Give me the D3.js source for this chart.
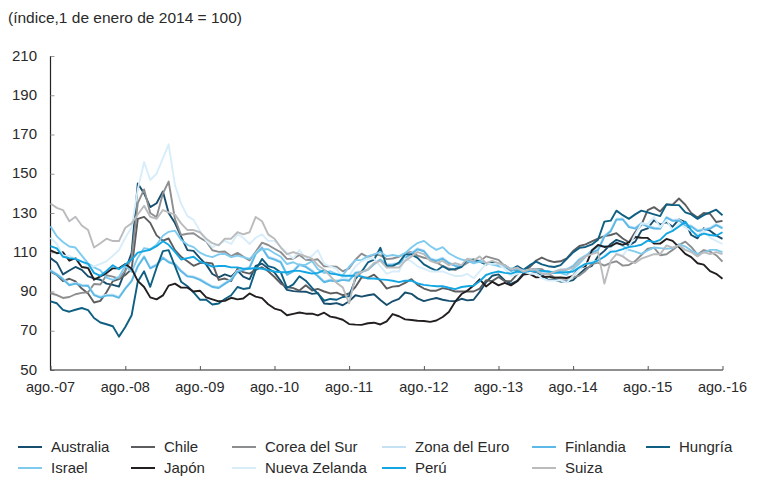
<!DOCTYPE html>
<html>
<head>
<meta charset="utf-8">
<script src="https://cdn.jsdelivr.net/npm/d3@7"></script>
<style>
  body { margin: 0; background: #fff; }
  svg { display: block; }
  text { font-family: "Liberation Sans", Arial, Helvetica, sans-serif; fill: #2a2a2a; }
</style>
</head>
<body>
<svg id="chart" width="758" height="477"></svg>
<script>
// monthly readings, ago.-2007 .. ago.-2016 (index, 1 Jan 2014 = 100)
var startMonth = new Date(2007, 7, 1);

var australia = [
  107.0, 104.7, 98.7, 100.7, 102.5,
  101.0, 97.7, 96.7, 96.0, 94.0, 93.4, 92.5, 100.7, 109.7, 145.0, 140.0, 133.0,
  135.0, 141.0, 130.0, 124.9, 118.0, 111.1, 110.7, 107.0, 103.7, 98.9, 97.2, 98.7,
  97.6, 100.7, 97.6, 96.2, 103.0, 104.2, 101.7, 99.7, 95.3, 90.8, 90.2, 90.0,
  89.9, 88.8, 89.2, 83.9, 83.6, 84.1, 83.0, 85.0, 88.1, 87.4, 88.1, 88.6,
  85.7, 83.1, 85.0, 86.2, 89.5, 88.8, 86.5, 85.1, 86.0, 86.7, 85.8, 85.2,
  85.0, 86.3, 85.5, 85.8, 89.8, 94.7, 98.0, 98.7, 95.6, 93.9, 95.4, 99.3,
  100.6, 99.9, 98.5, 95.9, 96.1, 95.1, 95.1, 95.8, 98.9, 101.7, 103.1, 108.0,
  110.7, 114.2, 116.3, 115.2, 113.5, 115.4, 121.0, 122.2, 126.3, 124.1, 125.3, 123.0,
  126.7, 125.3, 118.8, 117.1, 122.2, 121.0, 118.6, 116.8
];
var chile = [
  100.1, 98.4, 95.3, 96.5, 95.1,
  91.5, 89.0, 84.4, 85.2, 89.6, 95.3, 96.3, 98.4, 101.4, 127.0, 128.0, 125.0,
  118.6, 115.9, 117.0, 111.1, 107.7, 105.4, 103.1, 104.5, 104.7, 104.3, 95.9, 96.6,
  95.3, 101.6, 99.9, 99.1, 101.0, 102.4, 100.3, 97.4, 94.0, 92.3, 91.7, 90.5,
  93.2, 90.5, 91.3, 90.0, 89.0, 89.4, 88.1, 89.0, 92.3, 97.2, 97.0, 98.6,
  95.5, 91.5, 92.5, 92.8, 94.4, 96.3, 93.4, 91.5, 90.4, 90.4, 91.7, 91.1,
  90.0, 90.0, 90.0, 90.0, 91.5, 95.7, 95.3, 97.4, 95.3, 95.3, 98.9, 100.8,
  102.4, 105.8, 107.3, 105.8, 105.0, 105.4, 106.9, 110.6, 113.2, 114.0, 115.5, 116.9,
  118.2, 118.8, 119.7, 117.0, 115.1, 120.3, 123.9, 131.5, 133.0, 130.8, 134.4, 134.2,
  137.4, 134.2, 130.0, 127.7, 130.0, 129.6, 125.4, 126.0
];
var corea = [
  89.1, 88.2, 86.7, 87.2, 88.6,
  89.3, 89.6, 93.8, 93.6, 98.3, 97.6, 96.6, 100.5, 107.1, 135.0, 142.0, 130.0,
  127.8, 140.0, 146.0, 126.9, 118.8, 119.4, 119.7, 117.4, 115.5, 111.0, 110.2, 110.4,
  108.0, 109.7, 107.8, 105.8, 110.2, 114.9, 113.7, 111.8, 110.0, 106.6, 106.7, 108.6,
  106.2, 106.0, 106.4, 102.8, 102.8, 102.6, 100.3, 101.8, 106.2, 109.3, 107.5, 108.8,
  108.4, 106.5, 106.8, 107.7, 109.5, 110.2, 108.3, 107.2, 106.5, 104.8, 103.0, 101.7,
  100.9, 102.8, 104.5, 106.4, 105.3, 107.9, 107.0, 106.1, 102.9, 101.2, 100.7, 100.0,
  101.3, 101.5, 101.4, 99.1, 97.2, 96.6, 96.5, 97.2, 98.1, 100.6, 104.0, 104.7,
  103.2, 104.6, 105.4, 103.2, 103.5, 105.5, 108.6, 111.8, 112.3, 108.5, 109.0, 111.2,
  113.7, 115.4, 112.7, 108.8, 111.1, 110.4, 108.5, 105.2
];
var zonaEuro = [
  101.0, 99.0, 96.7, 93.7, 94.4,
  93.5, 93.3, 88.7, 87.4, 88.4, 88.4, 87.3, 91.9, 95.8, 103.2, 108.1, 102.3,
  103.9, 107.6, 105.4, 104.3, 100.8, 98.2, 97.7, 96.4, 94.5, 92.8, 92.3, 94.4,
  96.4, 100.6, 101.4, 102.6, 109.6, 112.7, 107.8, 106.7, 105.3, 99.0, 100.7, 104.1,
  103.0, 100.8, 98.3, 95.2, 96.1, 95.6, 96.4, 96.0, 99.9, 100.4, 101.5, 104.4,
  106.6, 103.9, 104.2, 104.6, 107.6, 109.7, 112.0, 111.0, 107.0, 106.1, 107.2, 104.9,
  103.5, 103.0, 106.2, 105.6, 106.0, 104.2, 105.2, 103.4, 103.1, 100.9, 102.0, 100.4,
  101.1, 100.7, 99.5, 99.6, 100.2, 101.3, 101.6, 103.3, 106.7, 108.6, 110.3, 111.6,
  118.4, 121.2, 127.1, 127.2, 123.3, 122.5, 125.1, 123.5, 122.6, 122.4, 128.1, 126.5,
  126.7, 124.0, 123.6, 121.3, 121.8, 122.5, 124.3, 122.7
];
var finlandia = [
  100.5, 98.6, 96.2, 93.2, 94.0,
  93.0, 92.8, 88.2, 86.9, 87.9, 87.9, 86.8, 91.4, 95.3, 102.7, 107.6, 101.8,
  103.4, 107.1, 104.9, 103.8, 100.3, 97.7, 97.2, 95.9, 94.0, 92.3, 91.8, 93.9,
  95.9, 100.1, 100.9, 102.1, 109.1, 112.2, 107.3, 106.2, 104.8, 98.5, 100.2, 103.6,
  102.5, 100.3, 97.8, 94.7, 95.6, 95.1, 95.9, 95.5, 99.4, 99.9, 101.0, 103.9,
  106.1, 103.4, 103.7, 104.1, 107.1, 109.2, 111.5, 110.5, 106.5, 105.6, 106.7, 104.4,
  103.0, 102.5, 105.7, 105.1, 105.5, 103.7, 104.7, 102.9, 102.6, 100.4, 101.5, 99.9,
  100.6, 100.2, 99.0, 99.1, 99.7, 100.8, 101.1, 102.8, 106.2, 108.1, 109.8, 111.1,
  117.9, 120.7, 126.6, 126.7, 122.8, 122.0, 124.6, 123.0, 122.1, 121.9, 127.6, 126.0,
  126.2, 123.5, 123.1, 120.8, 121.3, 122.0, 123.8, 122.2
];
var hungria = [
  85.0, 84.0, 80.6, 79.7, 80.7,
  81.6, 80.5, 76.5, 74.2, 73.3, 72.3, 67.0, 71.9, 77.9, 95.0, 100.3, 92.4,
  102.1, 110.6, 111.1, 102.9, 95.0, 92.7, 89.5, 85.8, 85.8, 83.4, 83.9, 86.2,
  88.1, 92.3, 91.3, 91.8, 101.1, 106.6, 102.9, 102.0, 99.7, 91.8, 93.6, 97.8,
  95.5, 91.8, 89.0, 85.3, 86.2, 85.8, 87.2, 87.6, 96.4, 100.1, 104.8, 106.2,
  112.3, 102.9, 102.9, 104.8, 108.9, 108.9, 107.1, 103.8, 102.0, 100.6, 102.9, 101.1,
  101.5, 102.5, 106.2, 106.2, 105.2, 103.8, 104.8, 103.8, 103.4, 101.1, 102.9, 101.1,
  103.4, 105.2, 103.8, 102.9, 102.5, 103.4, 106.6, 109.9, 112.2, 112.7, 114.0, 116.4,
  125.6, 126.1, 131.2, 128.9, 127.0, 129.3, 131.2, 130.3, 129.3, 128.4, 134.4, 134.0,
  134.0, 130.3, 129.3, 127.0, 128.9, 130.3, 131.7, 128.9
];
var israel = [
  123.3, 118.1, 115.2, 112.9, 112.4,
  108.3, 104.3, 102.3, 100.8, 97.1, 95.9, 97.4, 103.1, 100.0, 107.2, 112.1, 111.5,
  113.8, 118.4, 120.4, 121.0, 116.4, 113.8, 112.6, 109.8, 108.3, 107.5, 108.9, 109.2,
  107.5, 108.3, 107.5, 106.6, 109.5, 111.5, 111.5, 109.5, 107.7, 104.0, 104.9, 103.4,
  103.7, 105.4, 101.4, 99.4, 100.3, 98.8, 98.2, 102.6, 106.0, 106.0, 108.0, 108.9,
  110.1, 108.0, 108.6, 108.0, 109.5, 112.4, 114.7, 115.8, 113.2, 111.2, 112.6, 109.5,
  107.7, 106.3, 105.7, 104.3, 105.2, 104.6, 103.7, 103.1, 102.9, 101.7, 101.7, 100.8,
  100.5, 101.4, 100.3, 100.3, 99.7, 99.4, 98.5, 101.4, 104.3, 107.7, 111.2, 112.9,
  113.2, 112.6, 115.2, 113.2, 111.2, 110.3, 109.2, 110.9, 112.4, 112.1, 111.8, 112.1,
  114.1, 112.9, 110.9, 109.2, 109.8, 111.2, 111.2, 110.1
];
var japon = [
  111.0, 109.5, 110.0, 105.7, 107.0,
  102.5, 102.0, 96.0, 97.7, 99.4, 101.8, 101.8, 104.0, 101.6, 95.4, 92.3, 87.0,
  86.0, 88.0, 93.0, 94.0, 92.0, 92.0, 90.0, 90.4, 87.0, 86.0, 85.0, 85.2,
  86.8, 86.0, 86.4, 89.0, 87.4, 86.6, 83.5, 81.3, 80.4, 77.9, 78.6, 79.3,
  78.7, 78.7, 77.8, 79.2, 77.2, 76.6, 75.6, 73.4, 73.1, 73.0, 73.8, 74.1,
  73.2, 74.8, 78.5, 77.4, 75.8, 75.5, 75.1, 75.0, 74.5, 75.2, 77.0, 79.6,
  84.8, 88.7, 90.4, 93.0, 96.2, 92.6, 95.0, 93.1, 94.4, 93.1, 95.2, 98.6,
  99.0, 97.2, 97.4, 97.6, 97.0, 97.2, 96.9, 98.0, 102.0, 102.9, 110.9, 113.7,
  112.7, 113.1, 114.7, 113.8, 115.0, 117.8, 117.4, 117.3, 114.4, 114.4, 116.8, 115.8,
  112.6, 109.2, 107.5, 104.4, 103.7, 100.4, 99.0, 96.5
];
var nuevaZelanda = [
  117.4, 114.2, 108.2, 108.2, 106.8,
  105.4, 102.8, 102.8, 104.1, 105.4, 108.2, 111.1, 117.4, 122.7, 142.0, 156.0, 146.8,
  150.0, 158.0, 165.0, 144.2, 134.8, 128.4, 126.5, 120.9, 115.8, 112.6, 114.2, 115.8,
  114.2, 119.1, 117.4, 114.2, 117.4, 119.1, 115.8, 115.8, 112.6, 109.6, 106.8, 111.1,
  106.8, 108.2, 111.1, 104.1, 102.8, 101.5, 96.7, 97.9, 102.8, 105.4, 106.8, 106.8,
  102.8, 99.0, 100.2, 100.2, 106.8, 105.4, 102.8, 101.5, 100.2, 100.2, 100.2, 99.0,
  97.9, 97.9, 99.0, 96.7, 100.2, 104.1, 104.1, 104.1, 101.5, 97.9, 99.0, 100.2,
  99.0, 99.0, 96.7, 95.6, 95.6, 95.6, 94.5, 97.9, 101.5, 104.1, 105.4, 105.4,
  108.2, 111.1, 109.6, 108.2, 112.6, 119.1, 124.5, 124.5, 128.0, 122.7, 126.5, 120.9,
  124.5, 122.7, 120.9, 119.1, 120.9, 117.4, 115.8, 114.2
];
var peru = [
  113.1, 112.0, 107.7, 107.0, 106.6,
  105.2, 104.1, 99.5, 98.0, 100.5, 103.4, 101.3, 103.8, 106.3, 109.8, 110.6, 111.3,
  113.1, 115.6, 113.8, 110.2, 106.3, 107.0, 107.7, 105.2, 104.1, 102.7, 103.0, 103.0,
  102.3, 102.3, 101.6, 101.6, 102.0, 101.6, 100.9, 100.2, 99.8, 99.8, 100.5, 100.5,
  99.8, 99.1, 99.5, 100.9, 99.1, 98.7, 98.0, 98.0, 98.0, 97.7, 96.6, 96.6,
  96.2, 95.9, 95.5, 94.8, 95.5, 95.5, 94.1, 93.4, 93.0, 92.7, 92.7, 91.9,
  91.2, 92.3, 92.7, 93.0, 95.2, 98.4, 99.5, 100.2, 99.5, 99.1, 100.2, 99.8,
  100.5, 100.5, 100.5, 100.2, 99.5, 99.8, 99.8, 100.2, 102.3, 104.1, 104.5, 105.9,
  107.7, 110.2, 110.6, 111.6, 112.7, 113.1, 113.8, 115.9, 115.2, 116.3, 119.5, 120.9,
  123.1, 125.6, 121.3, 118.1, 119.5, 118.8, 118.4, 120.2
];
var suiza = [
  134.8, 132.6, 131.5, 125.8, 128.1,
  123.6, 121.3, 112.4, 114.6, 116.9, 115.7, 115.7, 122.5, 124.7, 129.2, 133.7, 128.1,
  127.0, 131.5, 130.3, 129.2, 124.7, 121.3, 121.3, 120.2, 116.9, 114.6, 113.5, 116.9,
  116.9, 120.2, 119.1, 120.2, 128.0, 125.8, 119.1, 116.9, 112.4, 109.0, 110.1, 109.0,
  107.9, 106.7, 103.4, 101.1, 97.8, 94.4, 92.1, 84.0, 97.8, 100.0, 101.1, 104.5,
  105.6, 102.2, 102.2, 102.2, 105.6, 107.9, 110.1, 109.0, 105.6, 104.5, 105.6, 103.4,
  104.5, 103.4, 106.7, 105.6, 107.9, 104.5, 105.6, 104.5, 103.4, 101.1, 102.2, 100.0,
  101.1, 101.1, 98.9, 98.9, 100.0, 101.1, 101.1, 102.2, 105.6, 107.9, 109.0, 110.1,
  94.0, 105.6, 109.0, 107.9, 105.6, 104.5, 106.7, 107.9, 109.0, 109.0, 113.5, 112.4,
  113.5, 111.2, 110.1, 107.9, 110.1, 109.0, 110.1, 109.0
];

var series = [
  {name: "Australia", color: "#174e6d", values: australia},
  {name: "Chile", color: "#5c5d5f", values: chile},
  {name: "Corea del Sur", color: "#8d8e90", values: corea},
  {name: "Zona del Euro", color: "#c4e2f3", values: zonaEuro},
  {name: "Finlandia", color: "#5cb9e7", values: finlandia},
  {name: "Hungría", color: "#0e5f82", values: hungria},
  {name: "Israel", color: "#7fcbef", values: israel},
  {name: "Japón", color: "#231f20", values: japon},
  {name: "Nueva Zelanda", color: "#d7eefa", values: nuevaZelanda},
  {name: "Perú", color: "#12a6e3", values: peru},
  {name: "Suiza", color: "#babbbd", values: suiza}
];

var yTicks = [50, 70, 90, 110, 130, 150, 170, 190, 210];
var xTickYears = [2007, 2008, 2009, 2010, 2011, 2012, 2013, 2014, 2015, 2016];

var svg = d3.select("#chart");

var x = d3.scaleTime()
  .domain([new Date(2007, 7, 1), new Date(2016, 7, 1)])
  .range([50.5, 722.5]);
var y = d3.scaleLinear()
  .domain([50, 210])
  .range([370, 56]);

function dateAt(i) {
  return d3.timeMonth.offset(startMonth, i);
}

svg.append("text")
  .attr("x", 8)
  .attr("y", 23)
  .style("font-size", "15.5px")
  .text("(índice,1 de enero de 2014 = 100)");

// y axis
var yAxis = svg.append("g")
  .attr("transform", "translate(50.5,0)")
  .call(d3.axisRight(y).tickValues(yTicks).tickSize(4).tickFormat(""));
yAxis.select(".domain").attr("stroke", "#222").attr("stroke-width", 1.2).attr("d", "M0,56V370");
yAxis.selectAll(".tick line").attr("stroke", "#999");

svg.append("g").selectAll("text")
  .data(yTicks)
  .enter()
  .append("text")
  .attr("x", 37)
  .attr("y", function(d) { return y(d) + 4.5; })
  .attr("text-anchor", "end")
  .style("font-size", "15px")
  .text(function(d) { return d; });

// lines
var line = d3.line()
  .x(function(d, i) { return x(dateAt(i)); })
  .y(function(d) { return y(d); });

svg.append("g").selectAll("path")
  .data(series)
  .enter()
  .append("path")
  .attr("fill", "none")
  .attr("stroke", function(d) { return d.color; })
  .attr("stroke-width", 1.9)
  .attr("stroke-linejoin", "round")
  .attr("d", function(d) { return line(d.values); });

// x axis
var xAxis = svg.append("g")
  .attr("transform", "translate(0,370)")
  .call(d3.axisTop(x)
    .tickValues(xTickYears.map(function(yr) { return new Date(yr, 7, 1); }))
    .tickSize(4)
    .tickFormat(""));
xAxis.select(".domain").attr("stroke", "#222").attr("stroke-width", 1.2).attr("d", "M50,0H723");
xAxis.selectAll(".tick line").attr("stroke", "#555");

svg.append("g").selectAll("text")
  .data(xTickYears)
  .enter()
  .append("text")
  .attr("x", function(yr) { return x(new Date(yr, 7, 1)); })
  .attr("y", 391.5)
  .attr("text-anchor", "middle")
  .style("font-size", "14.5px")
  .text(function(yr) { return "ago.-" + String(yr).slice(2); });

// legend
var legendCols = [18, 131, 232, 382, 532, 646];
var legendOrder = [
  ["Australia", 0, 0], ["Chile", 1, 0], ["Corea del Sur", 2, 0],
  ["Zona del Euro", 3, 0], ["Finlandia", 4, 0], ["Hungría", 5, 0],
  ["Israel", 0, 1], ["Japón", 1, 1], ["Nueva Zelanda", 2, 1],
  ["Perú", 3, 1], ["Suiza", 4, 1]
];
var legend = svg.append("g");
legendOrder.forEach(function(item) {
  var s = series.filter(function(d) { return d.name === item[0]; })[0];
  var lx = legendCols[item[1]], ly = 447 + item[2] * 21;
  legend.append("line")
    .attr("x1", lx).attr("x2", lx + 24)
    .attr("y1", ly).attr("y2", ly)
    .attr("stroke", s.color)
    .attr("stroke-width", 2);
  legend.append("text")
    .attr("x", lx + 33)
    .attr("y", ly + 5)
    .style("font-size", "15px")
    .text(s.name);
});
</script>
</body>
</html>
